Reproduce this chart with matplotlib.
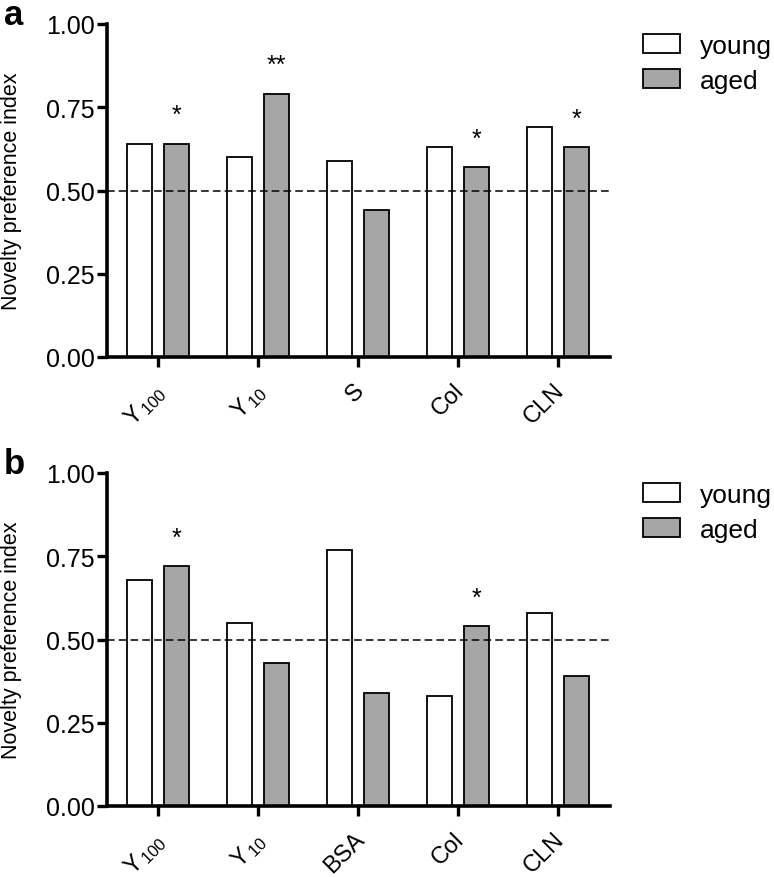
import matplotlib
matplotlib.use("Agg")
import matplotlib.pyplot as plt
import numpy as np
from matplotlib.patches import Patch

plt.rcParams['font.family'] = ['Liberation Sans', 'DejaVu Sans']
plt.rcParams['mathtext.fontset'] = 'custom'
plt.rcParams['mathtext.rm'] = 'Liberation Sans'
plt.rcParams['mathtext.it'] = 'Liberation Sans:italic'

# Data
cats_a = [r'Y$_{\,\mathrm{100}}$', r'Y$_{\,\mathrm{10}}$', 'S', 'Col', 'CLN']
young_a = [0.64, 0.60, 0.59, 0.63, 0.69]
aged_a = [0.64, 0.79, 0.44, 0.57, 0.63]
stars_a = ['*', '**', '', '*', '*']

cats_b = [r'Y$_{\,\mathrm{100}}$', r'Y$_{\,\mathrm{10}}$', 'BSA', 'Col', 'CLN']
young_b = [0.68, 0.55, 0.77, 0.33, 0.58]
aged_b = [0.72, 0.43, 0.34, 0.54, 0.39]
stars_b = ['*', '', '', '*', '']

yticks = [0.00, 0.25, 0.50, 0.75, 1.00]

W, H = 774, 878
fig = plt.figure(figsize=(W / 100, H / 100), dpi=100)

def make_ax(top_px, bot_px):
    left = 107 / W
    right = 610 / W
    return fig.add_axes([left, 1 - bot_px / H, right - left, (bot_px - top_px) / H])

ax_a = make_ax(25, 358)
ax_b = make_ax(474, 807)

def draw(ax, cats, young, aged, stars, letter):
    x = np.arange(len(cats))
    bw = 0.25
    off = 0.185
    ax.bar(x - off, young, bw, color='white', edgecolor='black', linewidth=1.3, zorder=2)
    ax.bar(x + off, aged, bw, color='#a6a6a6', edgecolor='black', linewidth=1.3, zorder=2)
    ax.axhline(0.5, color='black', linestyle=(0, (5, 2.7)), linewidth=1.1, zorder=3)
    for xi, a, s in zip(x, aged, stars):
        if s:
            ax.text(xi + off, a + 0.05, s, ha='center', va='bottom', fontsize=18)
    ax.set_xlim(-0.51, 4.52)
    ax.set_ylim(0, 1.0)
    ax.set_yticks(yticks)
    ax.set_yticklabels([f'{v:.2f}' for v in yticks], fontsize=18)
    ax.set_xticks(x)
    ax.set_xticklabels([])
    for xi, c in zip(x, cats):
        ax.annotate(c, xy=(xi, 0), xycoords=('data', 'axes fraction'),
                    xytext=(-3.5, -15.5), textcoords='offset points',
                    rotation=45, ha='right', va='top', rotation_mode='anchor',
                    fontsize=17, annotation_clip=False)
    ax.tick_params(axis='both', direction='out', width=2.4, length=7)
    ax.tick_params(axis='y', pad=2)
    for sp in ['top', 'right']:
        ax.spines[sp].set_visible(False)
    for sp in ['left', 'bottom']:
        ax.spines[sp].set_linewidth(2.6)
    ax.set_ylabel('Novelty preference index', fontsize=15.5)
    ax.yaxis.set_label_coords(-0.168, 0.5)
    ax.text(-0.205, 1.0, letter, transform=ax.transAxes, fontsize=25,
            fontweight='bold', ha='left', va='baseline')
    handles = [Patch(facecolor='white', edgecolor='black', linewidth=1.3, label='young'),
               Patch(facecolor='#a6a6a6', edgecolor='black', linewidth=1.3, label='aged')]
    ax.legend(handles=handles, loc='upper left', bbox_to_anchor=(1.0656, 0.97),
              frameon=False, fontsize=19, handlelength=1.4, handleheight=0.72,
              handletextpad=0.75, labelspacing=0.42, borderaxespad=0, borderpad=0)

draw(ax_a, cats_a, young_a, aged_a, stars_a, 'a')
draw(ax_b, cats_b, young_b, aged_b, stars_b, 'b')

fig.savefig('out.png', dpi=100)
